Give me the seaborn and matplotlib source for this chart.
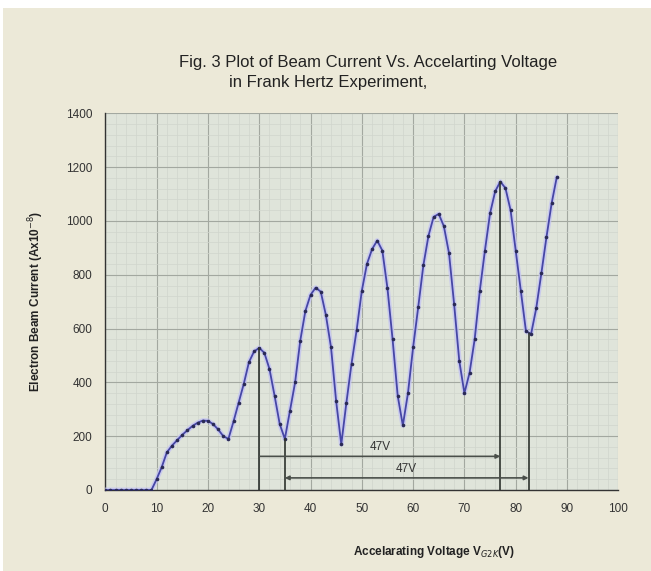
import numpy as np
import pandas as pd
import matplotlib
matplotlib.use("Agg")
import matplotlib.pyplot as plt
from matplotlib.patches import Rectangle
from matplotlib.ticker import MultipleLocator
import seaborn as sns

# ---- data ----
voltage = list(range(0, 89))
current = [0, 0, 0, 0, 0, 0, 0, 0, 0, 0,
           40, 85, 140, 165, 185, 205, 222, 238, 250, 258,
           257, 245, 225, 200, 190, 255, 325, 395, 475, 515,
           528, 510, 450, 350, 245, 190, 295, 400, 555, 665,
           725, 752, 737, 650, 530, 330, 170, 325, 470, 595,
           740, 840, 895, 927, 890, 750, 560, 350, 240, 360,
           530, 680, 835, 945, 1015, 1026, 980, 880, 690, 480,
           360, 435, 560, 740, 890, 1028, 1110, 1146, 1122, 1040,
           890, 740, 590, 580, 675, 805, 940, 1065, 1162]

peak_voltages = [30, 77]
dip_voltages = [35, 82.5]
spacing_label = "47V"
upper_arrow_y = 125
lower_arrow_y = 45

x_ticks = list(range(0, 101, 10))
y_ticks = list(range(0, 1401, 200))

title_lines = ["Fig. 3 Plot of Beam Current Vs. Accelarting Voltage",
               "in Frank Hertz Experiment,"]
x_label = "Accelarating Voltage V$_{G2K}$(V)"
y_label = "Electron Beam Current (Ax10$^{-8}$)"

df = pd.DataFrame({"V": voltage, "I": current})

# ---- style ----
sns.set_style("white")
plt.rcParams["font.family"] = ["Liberation Sans", "DejaVu Sans"]

fig = plt.figure(figsize=(6.51, 5.71), dpi=100, facecolor="white")
fig.patches.append(Rectangle((3 / 651, 0), 1, 1 - 8 / 571, transform=fig.transFigure,
                             facecolor="#ECE9D8", edgecolor="none", zorder=-10))
ax = fig.add_axes([105.3 / 651, 1 - 490 / 571, (618.3 - 105.3) / 651, (490 - 113.3) / 571])
ax.set_facecolor("#DFE4DA")

# grid
ax.xaxis.set_minor_locator(MultipleLocator(2))
ax.yaxis.set_minor_locator(MultipleLocator(40))
ax.grid(which="minor", color="#D0D5CC", linewidth=0.5)
ax.grid(which="major", color="#A3A8A0", linewidth=0.8)
ax.set_axisbelow(True)

# halo line + main line
ax.plot(df["V"], df["I"], color="#C4C4F2", linewidth=3.5, alpha=0.8, zorder=3,
        solid_capstyle="round")
sns.lineplot(data=df, x="V", y="I", ax=ax, color="#4646A6", linewidth=1.3,
             marker="o", markersize=2.6, markeredgewidth=0, markerfacecolor="#2A2A55",
             zorder=4)

# vertical reference lines
for v in peak_voltages + dip_voltages:
    h = np.interp(v, df["V"], df["I"])
    ax.plot([v, v], [0, h], color="#2E332E", linewidth=1.2, zorder=5)

# spacing arrows
ax.annotate("", xy=(peak_voltages[1], upper_arrow_y), xytext=(peak_voltages[0], upper_arrow_y),
            arrowprops=dict(arrowstyle="-|>", color="#4A4F4A", lw=1.2,
                            mutation_scale=6, shrinkA=0, shrinkB=0), zorder=5)
ax.annotate("", xy=(dip_voltages[1], lower_arrow_y), xytext=(dip_voltages[0], lower_arrow_y),
            arrowprops=dict(arrowstyle="<|-|>", color="#4A4F4A", lw=1.2,
                            mutation_scale=6, shrinkA=0, shrinkB=0), zorder=5)
ax.text((peak_voltages[0] + peak_voltages[1]) / 2, upper_arrow_y + 12, spacing_label,
        ha="center", va="bottom", fontsize=8.5, color="#333333")
ax.text((dip_voltages[0] + dip_voltages[1]) / 2, lower_arrow_y + 12, spacing_label,
        ha="center", va="bottom", fontsize=8.5, color="#333333")

# axes
ax.set_xlim(0, 100)
ax.set_ylim(0, 1400)
ax.set_xticks(x_ticks)
ax.set_yticks(y_ticks)
ax.tick_params(axis="both", which="major", direction="inout", length=5, width=0.9,
               colors="#444444", labelsize=8.5, labelcolor="#333333", pad=7)
ax.tick_params(axis="both", which="minor", length=0)
for s in ["top", "right"]:
    ax.spines[s].set_visible(False)
for s in ["left", "bottom"]:
    ax.spines[s].set_color("#333333")
    ax.spines[s].set_linewidth(1.0)
ax.set_xlabel("")
ax.set_ylabel(y_label, fontsize=8.5, fontweight="bold", color="#222222", labelpad=14)

fig.text(368 / 651, 1 - 62 / 571, title_lines[0], ha="center", va="center",
         fontsize=12, color="#222222")
fig.text(328 / 651, 1 - 83 / 571, title_lines[1], ha="center", va="center",
         fontsize=12, color="#222222")
fig.text(434 / 651, 1 - 552 / 571, x_label, ha="center", va="center",
         fontsize=8.5, fontweight="bold", color="#222222")

fig.savefig("out.png", dpi=100, facecolor=fig.get_facecolor())
